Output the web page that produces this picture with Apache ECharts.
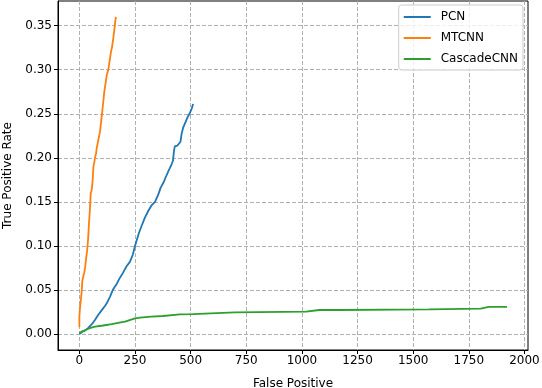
<!DOCTYPE html>
<html>
<head>
<meta charset="utf-8">
<script src="https://cdn.jsdelivr.net/npm/echarts@6/dist/echarts.min.js"></script>
<style>
  html, body { margin: 0; padding: 0; background: #fff; }
  #main { width: 542px; height: 388px; }
</style>
</head>
<body>
<div id="main"></div>
<script>
// curves, [false positives, true positive rate]
const pcn = [
  [0, 0], [3, 0.001], [15, 0.003], [25, 0.004], [40, 0.007], [55, 0.011], [70, 0.016],
  [85, 0.022], [100, 0.027], [115, 0.032], [125, 0.036], [137, 0.042], [150, 0.05],
  [160, 0.054], [168, 0.057], [180, 0.063], [197, 0.07], [212, 0.077], [227, 0.082],
  [240, 0.09], [250, 0.1], [257, 0.106], [268, 0.115], [280, 0.123], [294, 0.132],
  [310, 0.14], [324, 0.146], [340, 0.15], [347, 0.152], [354, 0.158], [365, 0.166],
  [378, 0.172], [388, 0.178], [400, 0.185], [406, 0.188], [415, 0.193], [421, 0.197],
  [425, 0.208], [429, 0.213], [440, 0.214], [447, 0.215], [454, 0.218], [460, 0.228],
  [466, 0.234], [476, 0.24], [488, 0.247], [495, 0.25], [505, 0.256], [511, 0.261]
]
const mtcnn = [
  [0, 0.008], [0, 0.02], [3, 0.03], [5, 0.035], [8, 0.042], [11, 0.05], [13, 0.06],
  [18, 0.066], [22, 0.07], [26, 0.076], [30, 0.085], [35, 0.095], [40, 0.11], [43, 0.125],
  [47, 0.14], [51, 0.16], [55, 0.163], [58, 0.17], [60, 0.176], [63, 0.19], [68, 0.196],
  [70, 0.2], [75, 0.205], [78, 0.211], [85, 0.22], [93, 0.23], [98, 0.242], [103, 0.253],
  [108, 0.265], [112, 0.275], [118, 0.285], [124, 0.295], [130, 0.3], [136, 0.31],
  [142, 0.32], [147, 0.326], [152, 0.335], [157, 0.345], [160, 0.352], [164, 0.36]
]
const cascade = [
  [0, 0.001], [11, 0.003], [30, 0.005], [50, 0.007], [70, 0.0086], [100, 0.0095],
  [145, 0.0113], [180, 0.013], [205, 0.0142], [226, 0.016], [250, 0.018], [272, 0.0187],
  [324, 0.0198], [376, 0.0206], [451, 0.0225], [510, 0.0227], [510, 0.0248], [698, 0.0248],
  [698, 0.0255], [1019, 0.0255], [1019, 0.026], [1078, 0.0274], [1168, 0.0274],
  [1168, 0.028], [1571, 0.028], [1571, 0.029], [1803, 0.029], [1803, 0.03], [1840, 0.031],
  [1922, 0.031]
]
const xTicks = [0, 250, 500, 750, 1000, 1250, 1500, 1750, 2000]
const yTicks = [0, 0.05, 0.1, 0.15, 0.2, 0.25, 0.3, 0.35]

const font = 'DejaVu Sans'
const gridLine = { show: true, lineStyle: { color: '#b0b0b0', type: [4, 2], width: 1 } }

const chart = echarts.init(document.getElementById('main'))
chart.setOption({
  animation: false,
  textStyle: { fontFamily: font },
  grid: {
    left: 58, right: 14, top: 1, bottom: 38,
    outerBoundsMode: 'none', containLabel: false,
    show: true, borderColor: '#000', borderWidth: 1, backgroundColor: 'transparent'
  },
  legend: {
    orient: 'vertical',
    right: 19, top: 5,
    padding: [5, 5, 4, 5],
    itemWidth: 27, itemHeight: 2, itemGap: 7,
    icon: 'rect',
    backgroundColor: 'rgba(255,255,255,0.8)',
    borderColor: '#cccccc', borderWidth: 1, borderRadius: 3,
    textStyle: { fontFamily: font, fontSize: 12, color: '#000', lineHeight: 14, padding: [0, 0, 0, 5] },
    data: ['PCN', 'MTCNN', 'CascadeCNN']
  },
  xAxis: {
    type: 'value',
    min: -96, max: 2016,
    name: 'False Positive', nameLocation: 'middle', nameGap: 28,
    nameTextStyle: { fontFamily: font, fontSize: 12, color: '#000' },
    axisLine: { show: true, onZero: false, lineStyle: { color: '#000' } },
    axisTick: { show: true, length: 4, inside: false, customValues: xTicks, lineStyle: { color: '#000' } },
    axisLabel: {
      customValues: xTicks, fontSize: 12, color: '#000', margin: 5, fontFamily: font,
      formatter: v => String(v)
    },
    splitLine: gridLine
  },
  yAxis: {
    type: 'value',
    min: -0.018, max: 0.378,
    name: 'True Positive Rate', nameLocation: 'middle', nameGap: 44,
    nameTextStyle: { fontFamily: font, fontSize: 12, color: '#000' },
    axisLine: { show: true, onZero: false, lineStyle: { color: '#000' } },
    axisTick: { show: true, length: 4, inside: false, customValues: yTicks, lineStyle: { color: '#000' } },
    axisLabel: {
      customValues: yTicks, fontSize: 12, color: '#000', margin: 6, fontFamily: font,
      formatter: v => v.toFixed(2)
    },
    splitLine: gridLine
  },
  series: [
    { name: 'PCN', type: 'line', data: pcn, showSymbol: false, color: '#1f77b4', lineStyle: { width: 1.8 } },
    { name: 'MTCNN', type: 'line', data: mtcnn, showSymbol: false, color: '#ff7f0e', lineStyle: { width: 1.8 } },
    { name: 'CascadeCNN', type: 'line', data: cascade, showSymbol: false, color: '#2ca02c', lineStyle: { width: 1.8 } }
  ]
})
</script>
</body>
</html>
